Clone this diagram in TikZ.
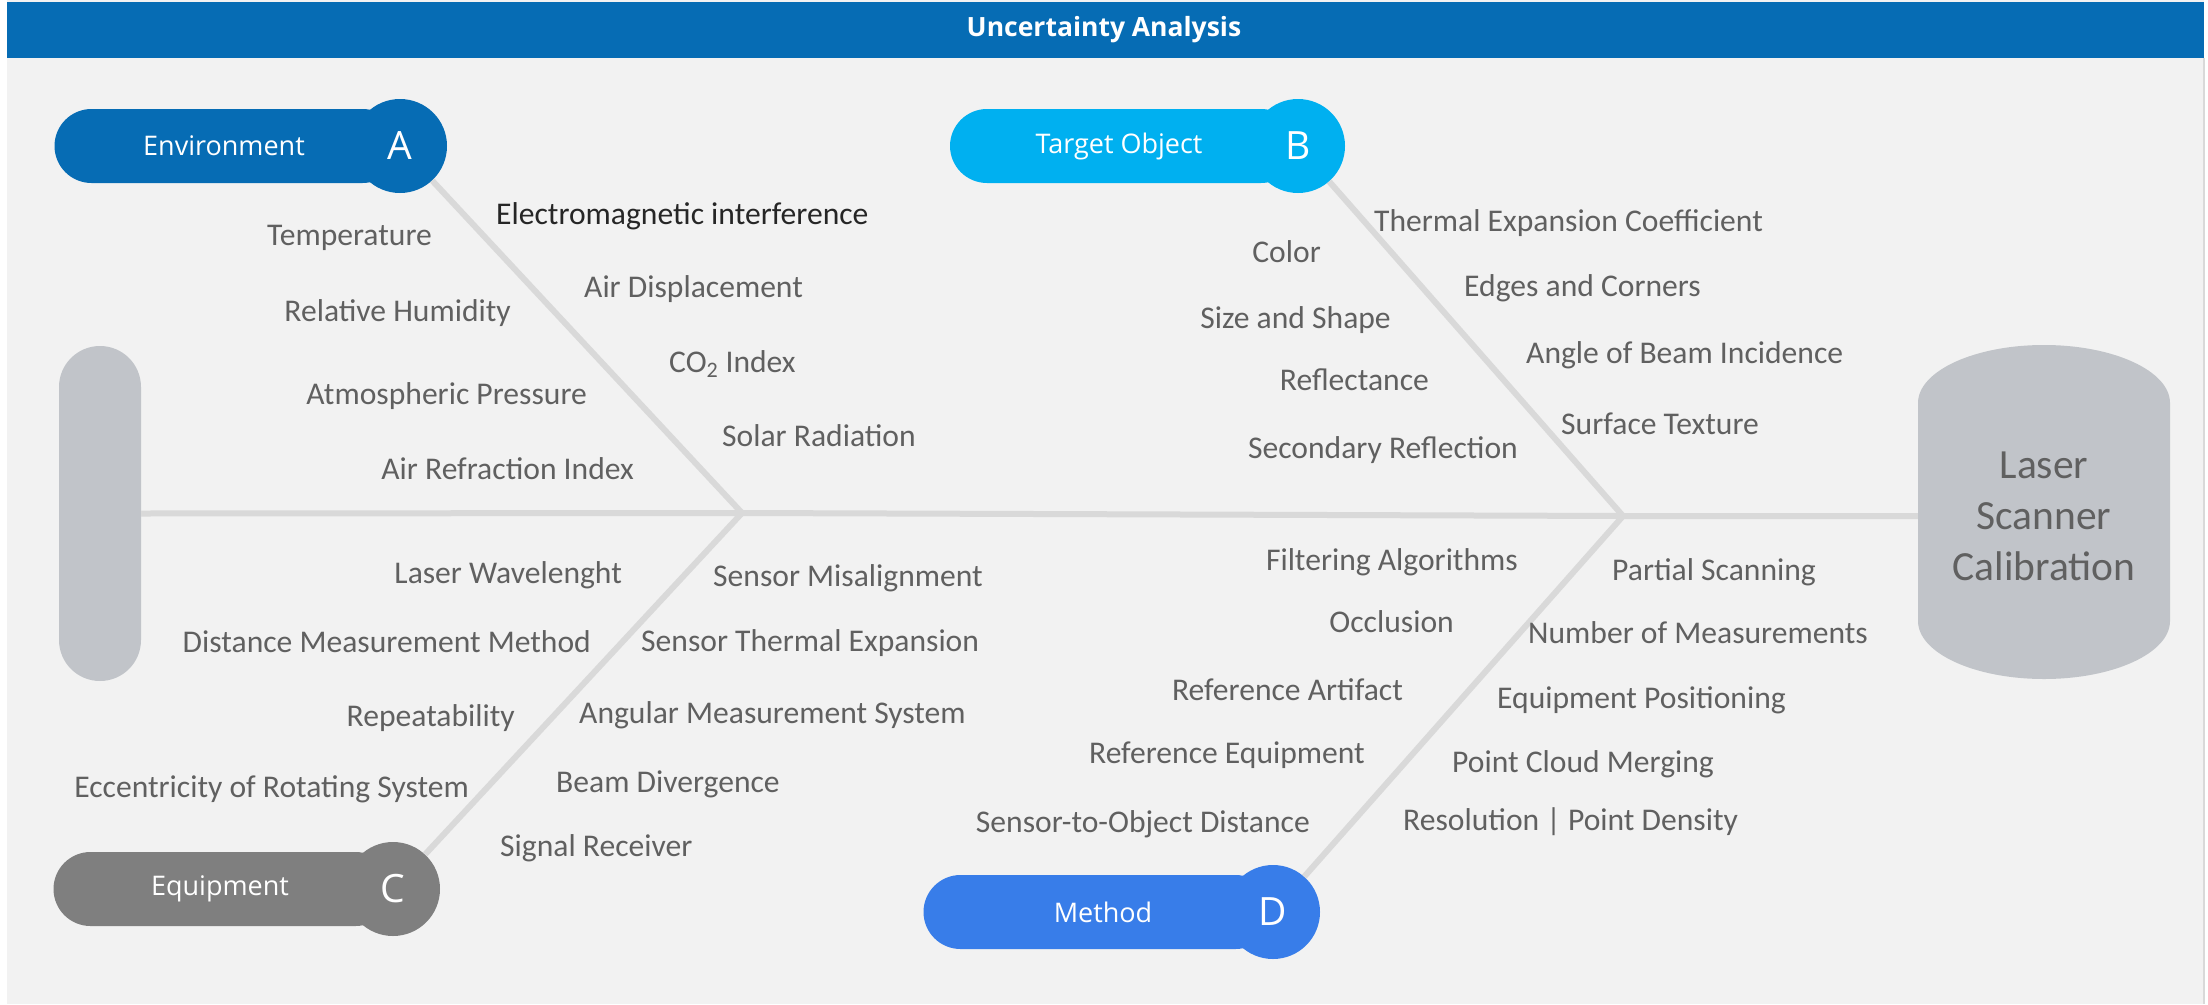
\documentclass[tikz,border=0pt]{standalone}
\usepackage{fontspec}
\setmainfont{Carlito}
\newfontfamily\pillfont{Open Sans}
\usepackage{xcolor}
\usepackage{tikz}
\usetikzlibrary{positioning}

\definecolor{panelgray}{HTML}{F2F2F2}
\definecolor{titleblue}{HTML}{066CB4}
\definecolor{envblue}{HTML}{066CB4}
\definecolor{targetcyan}{HTML}{00B0F0}
\definecolor{equipgray}{HTML}{7F7F7F}
\definecolor{methodblue}{HTML}{387DE9}
\definecolor{bonegray}{HTML}{D9D9D9}
\definecolor{headgray}{HTML}{C1C4C9}
\definecolor{labelgray}{HTML}{606060}

\begin{document}
\begin{tikzpicture}[x=1pt,y=-1pt,
  cause/.style={inner sep=0pt,text height=20pt,text depth=0pt,text=labelgray,font=\fontsize{31.6}{36}\selectfont},
  bone/.style={bonegray,line width=6pt},
  pill/.style={rounded corners=37pt,minimum height=74pt,inner sep=0pt,text=white,font=\pillfont\fontsize{27}{32}\selectfont},
  badge/.style={circle,minimum size=94pt,inner sep=0pt,text=white,font=\pillfont\fontsize{39}{44}\selectfont}]
  \useasboundingbox (0,0) rectangle (2208,1004);
  \fill[white] (0,0) rectangle (2208,1004);
  \fill[panelgray] (7,0) rectangle (2204,1004);
  \draw[bonegray,line width=2pt] (2204,58) -- (2204,1004);
  \fill[titleblue] (7,2) rectangle (2204,58);
  \node[text=white,font=\pillfont\bfseries\fontsize{26.5}{30}\selectfont] (title) at (1104,30) {Uncertainty Analysis};

  \node[fill=headgray,rounded corners=41pt,minimum width=82pt,minimum height=335pt,inner sep=0pt] (tail) at (100,513.5) {};
  \fill[headgray] (2044,403) ellipse[x radius=126pt,y radius=58pt]
    (2044,621) ellipse[x radius=126pt,y radius=58pt]
    (1918,403) rectangle (2170,621);
  \node[inner sep=0pt,minimum width=252pt,minimum height=334pt,align=center,text=labelgray,font=\fontsize{41.5}{51}\selectfont] (head) at (2044,516) {Laser\\Scanner\\Calibration};

  \coordinate (jA) at (742,513);
  \coordinate (jB) at (1623,516);
  \draw[bone] (tail.east) -- (jA) -- (jB) -- (head.west);

  \node[pill,fill=envblue,minimum width=345pt] (envbox) at (227,146) {Environment\hspace*{6pt}};
  \node[badge,fill=envblue] (envA) at (400,146) {A};
  \node[pill,fill=targetcyan,minimum width=348pt] (tgtbox) at (1124,146) {Target Object\hspace*{10pt}};
  \node[badge,fill=targetcyan] (tgtB) at (1298,146) {B};
  \node[pill,fill=equipgray,minimum width=339pt] (eqbox) at (223,889) {Equipment\hspace*{6pt}};
  \node[badge,fill=equipgray] (eqC) at (393,889) {C};
  \node[pill,fill=methodblue,minimum width=349pt] (metbox) at (1098,912) {\hspace*{10pt}Method};
  \node[badge,fill=methodblue] (metD) at (1273,912) {D};

  \draw[bone] (jA) -- (envA);
  \draw[bone] (jB) -- (tgtB);
  \draw[bone] (jA) -- (eqC);
  \draw[bone] (jB) -- (metD);

  \node[cause,left] (temp) at (432,235) {Temperature};
  \node[cause,left] (humid) at (511,311) {Relative Humidity};
  \node[cause,left] (press) at (587,394) {Atmospheric Pressure};
  \node[cause,left] (refr) at (634,469) {Air Refraction Index};
  \node[cause,right,text=black!85] (emi) at (496,214) {Electromagnetic interference};
  \node[cause,right] (airdisp) at (584,287) {Air Displacement};
  \node[cause,right] (cotwo) at (669,362) {CO\textsubscript{2} Index};
  \node[cause,right] (solar) at (722,436) {Solar Radiation};

  \node[cause,left] (color) at (1321,252) {Color};
  \node[cause,left] (size) at (1391,318) {Size and Shape};
  \node[cause,left] (refl) at (1429,380) {Reflectance};
  \node[cause,left] (secref) at (1518,448) {Secondary Reflection};
  \node[cause,right] (thermal) at (1374,221) {Thermal Expansion Coefficient};
  \node[cause,right] (edges) at (1464,286) {Edges and Corners};
  \node[cause,right] (angle) at (1526,353) {Angle of Beam Incidence};
  \node[cause,right] (surface) at (1561,424) {Surface Texture};

  \node[cause,left] (wavel) at (622,573) {Laser Wavelenght};
  \node[cause,left] (distm) at (591,642) {Distance Measurement Method};
  \node[cause,left] (repeat) at (515,716) {Repeatability};
  \node[cause,left] (eccen) at (469,787) {Eccentricity of Rotating System};
  \node[cause,right] (misal) at (713,576) {Sensor Misalignment};
  \node[cause,right] (sthermal) at (641,641) {Sensor Thermal Expansion};
  \node[cause,right] (angular) at (579,713) {Angular Measurement System};
  \node[cause,right] (diverg) at (556,782) {Beam Divergence};
  \node[cause,right] (signal) at (500,846) {Signal Receiver};

  \node[cause,left] (filter) at (1518,560) {Filtering Algorithms};
  \node[cause,left] (occl) at (1454,622) {Occlusion};
  \node[cause,left] (refart) at (1403,690) {Reference Artifact};
  \node[cause,left] (refeq) at (1365,753) {Reference Equipment};
  \node[cause,left] (sodist) at (1310,822) {Sensor-to-Object Distance};
  \node[cause,right] (partial) at (1612,570) {Partial Scanning};
  \node[cause,right] (nmeas) at (1528,633) {Number of Measurements};
  \node[cause,right] (eqpos) at (1497,698) {Equipment Positioning};
  \node[cause,right] (merge) at (1452,762) {Point Cloud Merging};
  \node[cause,right] (resol) at (1403,820) {Resolution | Point Density};
\end{tikzpicture}
\end{document}
